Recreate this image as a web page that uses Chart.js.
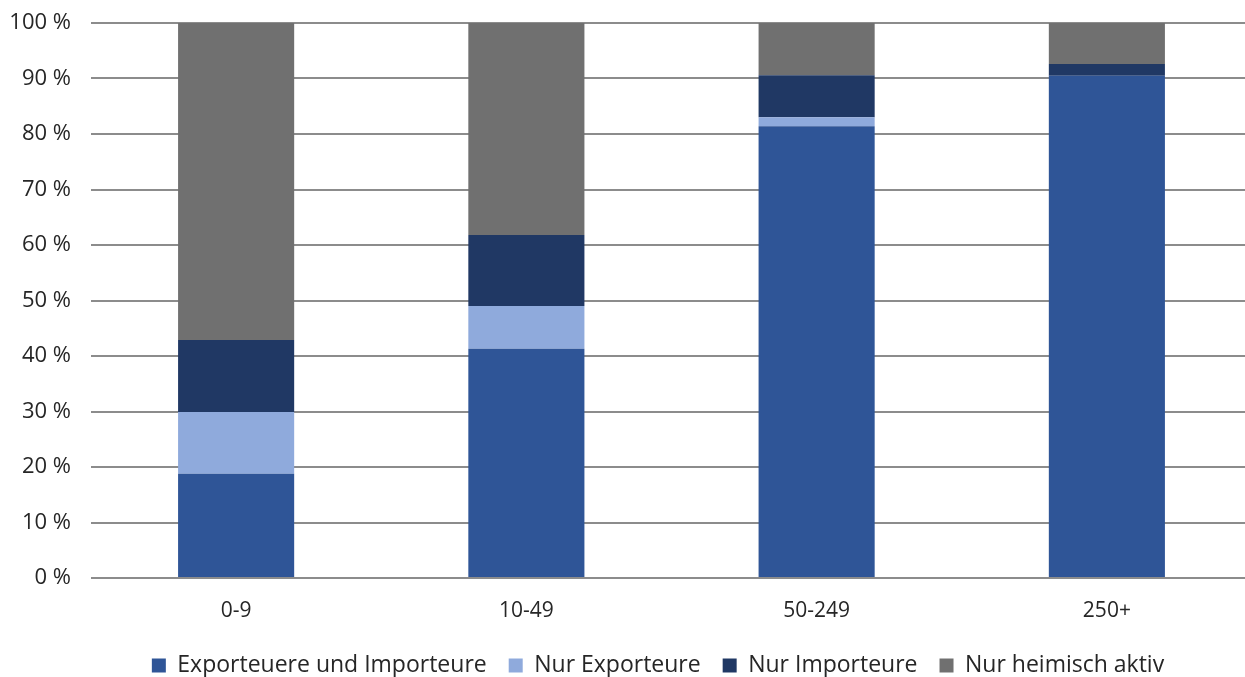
<!DOCTYPE html>
<html>
<head>
<meta charset="utf-8">
<script src="https://cdn.jsdelivr.net/npm/chart.js@4"></script>
<style>
  html, body { margin: 0; padding: 0; background: #fff; overflow: hidden; }
  #wrap { position: relative; width: 1252px; height: 687px; }
</style>
</head>
<body>
<div id="wrap"><canvas id="c"></canvas></div>
<script>
const categories = ['0-9', '10-49', '50-249', '250+'];
const exportAndImport = [18.8, 41.3, 81.4, 90.5];
const exportOnly = [11.1, 7.7, 1.6, 0.0];
const importOnly = [13.0, 12.8, 7.6, 2.1];
const domesticOnly = [57.1, 38.2, 9.4, 7.4];
const yTicks = [0, 10, 20, 30, 40, 50, 60, 70, 80, 90, 100];

const seriesNames = ['Exporteuere und Importeure', 'Nur Exporteure', 'Nur Importeure', 'Nur heimisch aktiv'];
const seriesColors = ['#2F5597', '#8FAADC', '#203864', '#707070'];
const seriesData = [exportAndImport, exportOnly, importOnly, domesticOnly];

Chart.defaults.font.family = '"Open Sans", "Noto Sans", sans-serif';
Chart.defaults.color = '#262626';

// nudge the legend row to the right so it sits under the plot
const legendShift = {
  id: 'legendShift',
  afterLayout(chart) {
    if (chart.legend) {
      chart.legend.left += 32;
      chart.legend.right += 32;
    }
  }
};

new Chart(document.getElementById('c'), {
  type: 'bar',
  data: {
    labels: categories,
    datasets: seriesNames.map((name, i) => ({
      label: name,
      data: seriesData[i],
      backgroundColor: seriesColors[i],
      borderWidth: 0,
      categoryPercentage: 1.0,
      barPercentage: 0.4
    }))
  },
  plugins: [legendShift],
  options: {
    responsive: true,
    maintainAspectRatio: false,
    animation: false,
    layout: { padding: { top: 23, right: 0, left: 0, bottom: 0 } },
    plugins: {
      tooltip: { enabled: false },
      legend: {
        position: 'bottom',
        labels: {
          boxWidth: 14,
          boxHeight: 14,
          padding: 22,
          font: { size: 23 },
          color: '#262626'
        }
      }
    },
    scales: {
      x: {
        stacked: true,
        grid: { display: false, drawTicks: false },
        border: { display: false },
        ticks: { font: { size: 21 }, padding: 20, color: '#262626' },
        afterFit: (axis) => { axis.height = 54; }
      },
      y: {
        stacked: true,
        min: 0,
        max: 100,
        afterBuildTicks: (axis) => { axis.ticks = yTicks.map(v => ({ value: v })); },
        afterFit: (axis) => {
          axis.width = 91;
          axis.paddingTop = 0;
          axis.paddingBottom = 0;
        },
        grid: { color: '#8c8c8c', lineWidth: 2, drawTicks: false },
        border: { display: false },
        ticks: {
          font: { size: 22 },
          padding: 20,
          color: '#262626',
          callback: (v) => v + ' %'
        }
      }
    }
  }
});
</script>
</body>
</html>
